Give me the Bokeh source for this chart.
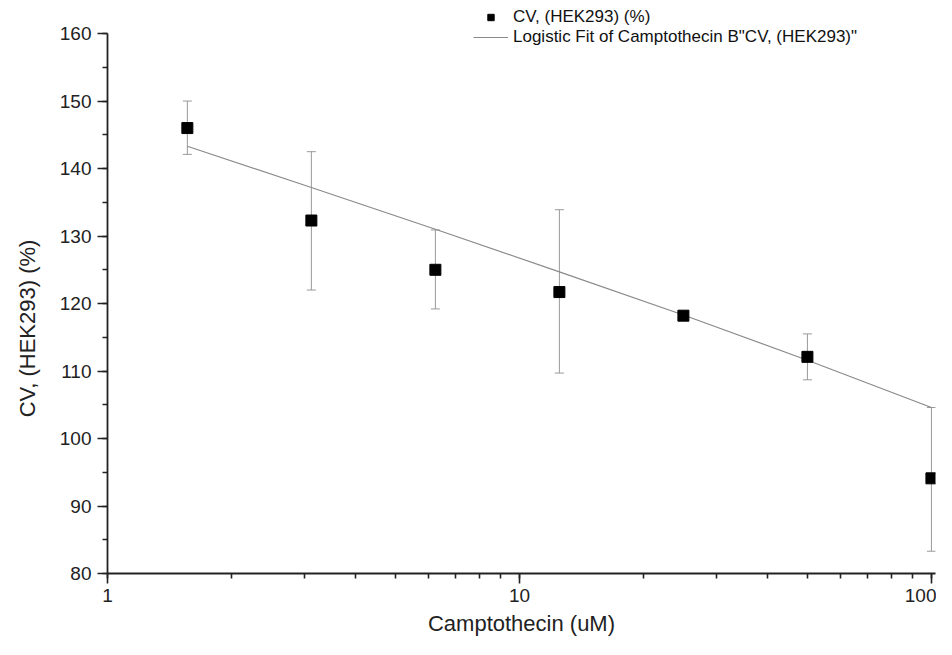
import math
from bokeh.plotting import figure
from bokeh.models import (ColumnDataSource, Whisker, TeeHead, Range1d, LogTicker,
                          BasicTicker, Legend, LegendItem, Label)
from bokeh.embed import file_html
from bokeh.resources import INLINE

# ---- data ----
conc = [1.5625, 3.125, 6.25, 12.5, 25, 50, 100]
cv = [146.0, 132.3, 125.0, 121.7, 118.2, 112.1, 94.1]
cv_upper = [150.0, 142.5, 130.9, 133.9, 118.5, 115.5, 104.6]
cv_lower = [142.1, 122.0, 119.2, 109.7, 117.9, 108.7, 83.3]

fit_x = [1.5625, 3.125, 6.25, 12.5, 25, 50, 100]
fit_y = [143.3, 137.2, 131.0, 124.7, 118.3, 111.6, 104.6]

x_ticks = [1, 10, 100]
y_ticks = [80, 90, 100, 110, 120, 130, 140, 150, 160]

FONT = "Liberation Sans"

p = figure(width=936, height=639, output_backend="svg", toolbar_location=None,
           x_axis_type="log", x_range=Range1d(1, 102.3), y_range=Range1d(80, 164.9),
           min_border_left=107, min_border_right=1, min_border_top=0, min_border_bottom=66)
p.outline_line_color = None
p.grid.visible = False
p.background_fill_color = "white"
p.border_fill_color = "white"

src = ColumnDataSource(dict(x=conc, y=cv, upper=cv_upper, lower=cv_lower))
fit_src = ColumnDataSource(dict(x=fit_x, y=fit_y))

whisk = Whisker(source=src, base="x", upper="upper", lower="lower", dimension="height",
                line_color="#999999", line_width=1,
                upper_head=TeeHead(size=9, line_color="#999999", line_width=1),
                lower_head=TeeHead(size=9, line_color="#999999", line_width=1))
p.add_layout(whisk)

fit_r = p.line("x", "y", source=fit_src, line_color="#8a8a8a", line_width=1.2)
pts_r = p.scatter("x", "y", source=src, marker="square", size=11,
                  fill_color="black", line_color="black")

# axes styling
for ax in (p.xaxis[0], p.yaxis[0]):
    ax.axis_line_color = "#222222"
    ax.axis_line_width = 1.8
    ax.major_tick_line_color = "#222222"
    ax.minor_tick_line_color = "#222222"
    ax.major_tick_line_width = 1.6
    ax.minor_tick_line_width = 1.6
    ax.major_tick_in = 0
    ax.minor_tick_in = 0
    ax.major_tick_out = 10
    ax.minor_tick_out = 5
    ax.major_label_text_font = FONT
    ax.major_label_text_font_size = "19px"
    ax.major_label_text_color = "#222222"
    ax.axis_label_text_font = FONT
    ax.axis_label_text_font_size = "22px"
    ax.axis_label_text_font_style = "normal"
    ax.axis_label_text_color = "#222222"

p.xaxis[0].ticker = LogTicker(desired_num_ticks=3, num_minor_ticks=10)
p.xaxis[0].major_label_overrides = {t: str(t) for t in x_ticks}
p.xaxis[0].axis_label = "Camptothecin (uM)"
p.xaxis[0].major_label_standoff = 5
p.xaxis[0].axis_label_standoff = 6

p.yaxis[0].ticker = BasicTicker(desired_num_ticks=len(y_ticks), num_minor_ticks=2)
p.yaxis[0].bounds = (y_ticks[0], y_ticks[-1])
p.yaxis[0].major_label_standoff = 6

# y-axis title placed in canvas pixels, a little below the axis middle
ylab = Label(x=27, y=328, x_units="canvas", y_units="canvas",
             text="CV, (HEK293) (%)", angle=math.pi / 2, angle_units="rad",
             text_align="center", text_baseline="middle",
             text_font=FONT, text_font_size="22px", text_color="#222222")
p.add_layout(ylab, "left")

legend = Legend(items=[
    LegendItem(label="CV, (HEK293) (%)", renderers=[pts_r]),
    LegendItem(label='Logistic Fit of Camptothecin B"CV, (HEK293)"', renderers=[fit_r]),
], location=(366, 526), orientation="vertical")
legend.border_line_color = None
legend.background_fill_alpha = 0
legend.label_text_font = FONT
legend.label_text_font_size = "17px"
legend.label_text_color = "#111111"
legend.glyph_width = 35
legend.glyph_height = 16
legend.label_height = 16
legend.label_standoff = 5
legend.spacing = 0
legend.padding = 0
legend.margin = 0
p.add_layout(legend, "center")

open("out.html", "w").write(file_html(p, INLINE))
